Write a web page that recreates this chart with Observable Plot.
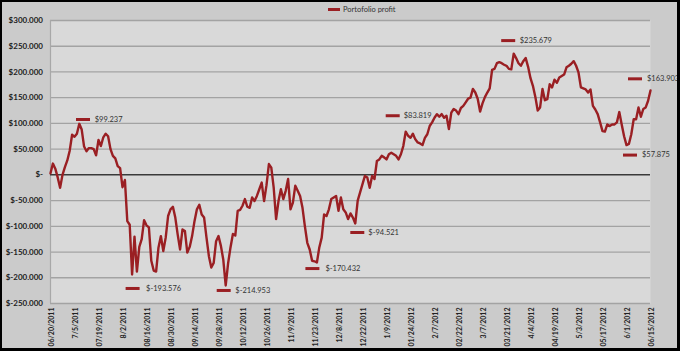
<!DOCTYPE html>
<html>
<head>
<meta charset="utf-8">
<script src="https://cdn.jsdelivr.net/npm/d3@7"></script>
<script src="https://cdn.jsdelivr.net/npm/@observablehq/plot@0.6"></script>
<style>
  html, body { margin: 0; padding: 0; background: #ffffff; }
  #wrap { position: relative; width: 680px; height: 351px; background: #cbcbcb; overflow: hidden; }
  #wrap svg { position: absolute; left: 0; top: 0; }
  #border { position: absolute; left: 0; top: 0; width: 680px; height: 351px; box-sizing: border-box;
            border-style: solid; border-color: #000; border-width: 2px 3px 3px 2px; pointer-events: none; }
  #legend { position: absolute; left: 328px; top: 5px; font: 7.5px Lato, sans-serif; color: #333; display: flex; align-items: center; }
  #legend .key { display: inline-block; width: 12px; height: 3px; background: #9a1f23; margin-right: 3px; }
</style>
</head>
<body>
<div id="wrap">
  <div id="legend"><span class="key"></span><span>Portofolio profit</span></div>
  <div id="border"></div>
</div>
<script>
// Portfolio profit, in thousands of dollars, one value per trading day (index 0 = 06/20/2011)
const profit = [
  3, 22, 12, -5, -25, 0, 15, 28, 47, 78,
  74, 80, 99.237, 88, 55, 46, 52, 52, 50, 38,
  68, 56, 73, 80, 75, 50, 37, 32, 17, 13,
  -24, -10, -90, -97, -193.576, -120, -188, -140, -125, -88,
  -98, -102, -167, -186, -188, -141, -119, -148, -122, -80,
  -67, -62, -83, -116, -145, -106, -109, -151, -140, -119,
  -90, -67, -58, -77, -83, -122, -158, -180, -171, -129,
  -119, -138, -165, -214.953, -172, -141, -115, -118, -70, -68,
  -60, -47, -62, -64, -44, -51, -41, -28, -15, -51,
  -20, 21, 14, -25, -86, -51, -28, -47, -31, -8,
  -67, -54, -21, -31, -41, -64, -100, -132, -145, -167,
  -168, -170.432, -141, -122, -77, -80, -67, -47, -44, -41,
  -70, -44, -67, -73, -86, -75, -83, -94.521, -50, -34,
  -18, -2, -5, -25, -2, -8, 27, 30, 37, 34,
  30, 40, 43, 40, 37, 30, 40, 56, 83.819, 76,
  72, 80, 69, 63, 61, 58, 72, 79, 95, 102,
  111, 118, 113, 118, 111, 115, 89, 121, 128, 125,
  118, 130, 134, 141, 148, 150, 167, 160, 148, 123,
  139, 151, 160, 168, 204, 206, 217, 219, 217, 214,
  212, 206, 205, 235.679, 227, 217, 212, 221, 227, 210,
  188, 173, 152, 125, 131, 167, 145, 147, 176, 170,
  185, 179, 189, 192, 195, 209, 212, 216, 221, 212,
  199, 170, 168, 166, 160, 166, 134, 127, 118, 102,
  85, 84, 98, 95, 98, 98, 102, 122, 98, 75,
  57.875, 60, 79, 108, 108, 131, 113, 128, 131, 144,
  163.903
];

// x-axis category labels (every 10th trading day)
const xTickIndex = [0, 10, 20, 30, 40, 50, 60, 70, 80, 90, 100, 110, 120, 130, 140, 150, 160, 170, 180, 190, 200, 210, 220, 230, 240, 250];
const xTickLabels = ["06/20/2011", "7/5/2011", "07/19/2011", "8/2/2011", "08/16/2011", "08/30/2011", "09/14/2011", "09/28/2011",
  "10/12/2011", "10/26/2011", "11/9/2011", "11/23/2011", "12/8/2011", "12/22/2011", "1/9/2012", "01/24/2012", "2/7/2012",
  "02/22/2012", "3/7/2012", "03/21/2012", "4/4/2012", "04/19/2012", "5/3/2012", "05/17/2012", "6/1/2012", "06/15/2012"];

// y-axis ticks (thousands)
const yTicks = [-250, -200, -150, -100, -50, 0, 50, 100, 150, 200, 250, 300];

// annotated points (trading-day index)
const annDay = [12, 34, 73, 111, 127, 148, 193, 240, 250];
// label layout offsets in px: [key dx, dy, text dx]
const annOffsets = [[3.7, -4.3, 15.4], [0.5, 14, 14], [-2, 5, 9.6], [-4.5, 6, 8.5], [2, 9, 13],
                    [-13, -16, -2], [-5.5, -13, 6], [3.5, 10, 15.5], [-15.5, -11.7, -3.5]];

const red = "#9a1f23";
const idx = profit.map((d, i) => i);

const yFmt = v => v === 0 ? "$-" : "$" + (v < 0 ? "-" : "") + Math.abs(v) + ".000";
const annFmt = v => "$" + (v < 0 ? "-" : "") + Math.abs(v).toFixed(3);

const dashSymbol = {
  draw(ctx) {
    ctx.moveTo(-7, -1.5); ctx.lineTo(7, -1.5); ctx.lineTo(7, 1.5); ctx.lineTo(-7, 1.5); ctx.closePath();
  }
};

const annMarks = annDay.flatMap((day, k) => {
  const [kdx, dy, tdx] = annOffsets[k];
  const row = [{x: day, y: profit[day], label: annFmt(profit[day])}];
  return [
    Plot.dot(row, {x: "x", y: "y", symbol: dashSymbol, fill: red, stroke: "none", r: 3, dx: kdx, dy}),
    Plot.text(row, {x: "x", y: "y", text: "label", dx: tdx, dy, textAnchor: "start", fill: "#333",
      fontSize: 7.5, fontFamily: "Lato, sans-serif"})
  ];
});

const chart = Plot.plot({
  width: 680,
  height: 351,
  marginLeft: 50,
  marginRight: 30,
  marginTop: 20,
  marginBottom: 48,
  style: {background: "transparent", fontFamily: "Lato, sans-serif"},
  x: {domain: [0, 250], axis: null},
  y: {domain: [-250, 300], axis: null},
  marks: [
    Plot.frame({fill: "#d9d9d9", stroke: "none"}),
    Plot.ruleY(yTicks.filter(d => d !== 0), {stroke: "#a3a3a3", strokeWidth: 1.3}),
    Plot.ruleX([0], {stroke: "#a8a8a8", strokeWidth: 1.2}),
    Plot.ruleY([0], {stroke: "#3a3a3a", strokeWidth: 1.5}),
    Plot.text(yTicks, {y: d => d, text: yFmt, frameAnchor: "left", textAnchor: "end", lineAnchor: "middle", dx: -7.5,
      fontSize: 8, fontWeight: "bold", fill: "#222"}),
    Plot.text(xTickIndex, {x: d => d, text: (d, i) => xTickLabels[i], frameAnchor: "bottom", rotate: -90,
      textAnchor: "end", lineAnchor: "middle", dx: 1.5, dy: 4, fontSize: 7, fontWeight: "bold", fill: "#222"}),
    Plot.line(idx, {x: i => i, y: i => profit[i], stroke: red, strokeWidth: 2.4, strokeLinejoin: "round"}),
    ...annMarks
  ]
});

document.getElementById("wrap").insertBefore(chart, document.getElementById("legend"));
</script>
</body>
</html>
